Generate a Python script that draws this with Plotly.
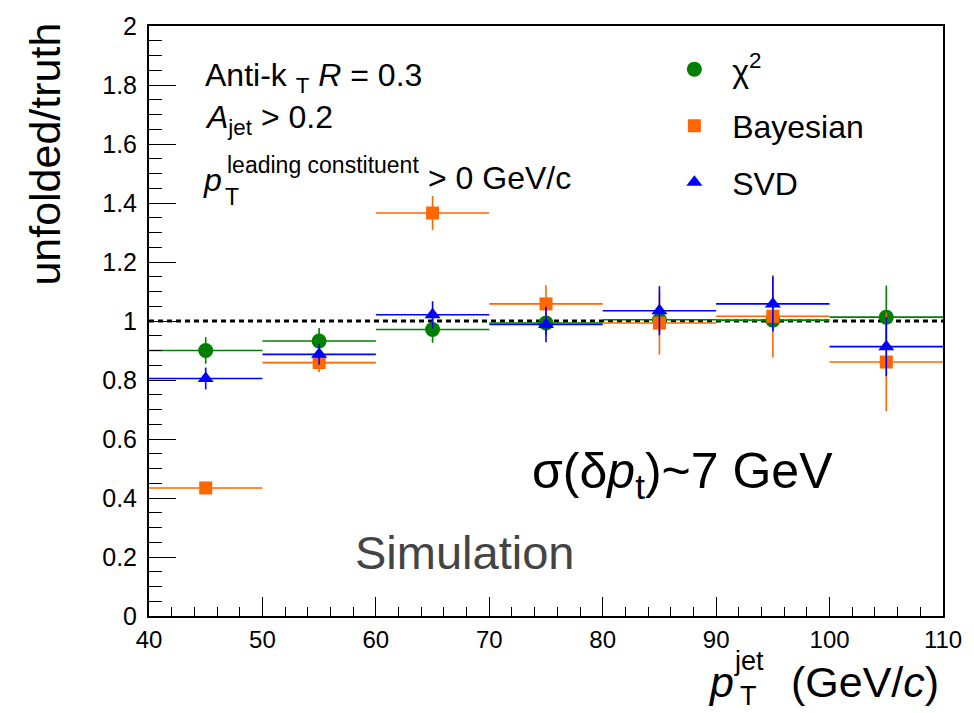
import plotly.graph_objects as go

# ---- data ----
bin_centers = [45, 55, 65, 75, 85, 95, 105]
bin_half_widths = [5, 5, 5, 5, 5, 5, 5]

chi2_vals = [0.900, 0.932, 0.971, 0.993, 1.004, 1.003, 1.013]
chi2_errs = [0.045, 0.044, 0.045, 0.040, 0.040, 0.040, 0.107]

bayes_vals = [0.434, 0.859, 1.366, 1.058, 0.993, 1.016, 0.861]
bayes_errs = [0.010, 0.033, 0.058, 0.063, 0.107, 0.140, 0.167]

svd_vals = [0.805, 0.887, 1.021, 0.988, 1.035, 1.058, 0.913]
svd_errs = [0.037, 0.035, 0.046, 0.060, 0.083, 0.093, 0.100]

x_range = [40, 110]
y_range = [0, 2]
ref_level = [1, 1]

# ---- layout geometry (pixels) ----
W, H = 974, 713
L, R, T, B = 149, 24, 20, 97
PW, PH = W - L - R, H - T - B


def px(xp):
    return (xp - L) / PW


def py(yp):
    return (H - B - yp) / PH


FONT = "Liberation Sans, Arial, sans-serif"
GREEN = "#008000"
ORANGE = "#ff6600"
BLUE = "#0000ff"

fig = go.Figure()

# reference line at 1
fig.add_trace(go.Scatter(
    x=x_range, y=ref_level, mode="lines",
    line=dict(color="black", width=3, dash="5px,4px"),
    showlegend=False, hoverinfo="skip"))

series = [
    ("\u00a0\u00a0χ<sup>2</sup>", chi2_vals, chi2_errs, GREEN, "circle", 15),
    ("\u00a0\u00a0Bayesian", bayes_vals, bayes_errs, ORANGE, "square", 13),
    ("\u00a0\u00a0SVD", svd_vals, svd_errs, BLUE, "triangle-up", 14),
]
for i, (name, vals, errs, col, sym, sz) in enumerate(series):
    fig.add_trace(go.Scatter(
        x=bin_centers, y=vals, mode="markers", name=name,
        legendgroup=str(i),
        marker=dict(color=col, symbol=sym, size=sz, line=dict(width=0)),
        error_x=dict(type="data", array=bin_half_widths, color=col,
                     thickness=1.6, width=0),
        error_y=dict(type="data", array=errs, color=col,
                     thickness=1.6, width=0),
    ))

annotations = [
    # axis titles
    dict(x=px(44), y=py(149), text="unfolded/truth", textangle=-90,
         font=dict(size=43), xanchor="center", yanchor="middle"),
    dict(x=px(741), y=py(683), text="<i>p</i>", font=dict(size=43),
         xanchor="right", yanchor="middle"),
    dict(x=px(737), y=py(661), text="jet", font=dict(size=27),
         xanchor="left", yanchor="middle"),
    dict(x=px(743), y=py(697), text="T", font=dict(size=27),
         xanchor="left", yanchor="middle"),
    dict(x=px(948), y=py(683), text="(GeV/<i>c</i>)", font=dict(size=43),
         xanchor="right", yanchor="middle"),
    # info text
    dict(x=px(203), y=py(72), text="Anti-k <sub>T</sub> <i>R</i> = 0.3",
         font=dict(size=32), xanchor="left", yanchor="middle"),
    dict(x=px(203), y=py(114), text="<i>A</i><sub>jet</sub> > 0.2",
         font=dict(size=32), xanchor="left", yanchor="middle"),
    dict(x=px(201), y=py(176), text="<i>p</i>",
         font=dict(size=32), xanchor="left", yanchor="middle"),
    dict(x=px(224), y=py(193), text="T",
         font=dict(size=23), xanchor="left", yanchor="middle"),
    dict(x=px(226), y=py(160), text="leading constituent",
         font=dict(size=23), xanchor="left", yanchor="middle"),
    dict(x=px(428), y=py(174), text="> 0 GeV/c",
         font=dict(size=32), xanchor="left", yanchor="middle"),
    # big labels
    dict(x=px(533), y=py(473), text="σ(δ<i>p</i><sub>t</sub>)~7 GeV",
         font=dict(size=50), xanchor="left", yanchor="middle"),
    dict(x=px(355), y=py(552), text="Simulation",
         font=dict(size=47, color="#444444"), xanchor="left", yanchor="middle"),
]
for a in annotations:
    a.update(xref="paper", yref="paper", showarrow=False)
    a.setdefault("font", {})
    a["font"].setdefault("color", "black")
    a["font"]["family"] = FONT

fig.update_layout(
    width=W, height=H,
    margin=dict(l=L, r=R, t=T, b=B, pad=0),
    paper_bgcolor="white", plot_bgcolor="white",
    font=dict(family=FONT, color="black"),
    annotations=annotations,
    showlegend=True,
    legend=dict(x=px(679), y=py(36), xanchor="left", yanchor="top",
                bgcolor="rgba(0,0,0,0)", font=dict(size=32),
                tracegroupgap=12, itemsizing="trace"),
    xaxis=dict(range=x_range, dtick=10, tick0=40, ticks="inside",
               ticklen=19, tickwidth=1.3, tickcolor="black",
               minor=dict(dtick=2, ticks="inside", ticklen=9,
                          tickwidth=1.3, tickcolor="black"),
               showline=True, linecolor="black", linewidth=2, mirror=True,
               showgrid=False, zeroline=False,
               tickfont=dict(size=24), ticklabelstandoff=1),
    yaxis=dict(range=y_range, dtick=0.2, tick0=0, ticks="inside",
               ticklen=27, tickwidth=1.3, tickcolor="black",
               minor=dict(dtick=0.05, ticks="inside", ticklen=13,
                          tickwidth=1.3, tickcolor="black"),
               showline=True, linecolor="black", linewidth=2, mirror=True,
               showgrid=False, zeroline=False,
               tickfont=dict(size=25), ticklabelstandoff=5),
)

fig.write_html("out.html")
